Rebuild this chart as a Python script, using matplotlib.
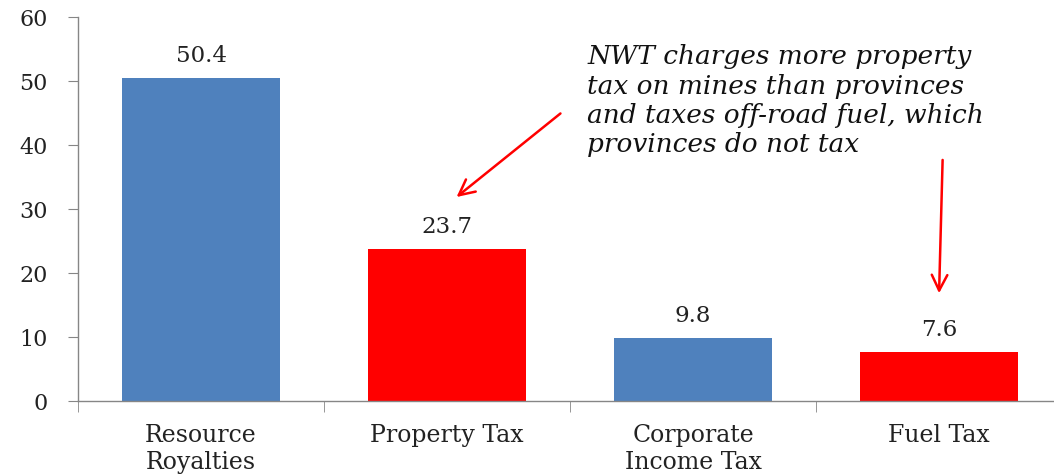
import numpy as np
import matplotlib.pyplot as plt

categories = ['Resource\nRoyalties', 'Property Tax', 'Corporate\nIncome Tax', 'Fuel Tax']
values = [50.4, 23.7, 9.8, 7.6]
colors = ['#4F81BD', '#FF0000', '#4F81BD', '#FF0000']
y_ticks = [0, 10, 20, 30, 40, 50, 60]
note = ('NWT charges more property\ntax on mines than provinces\n'
        'and taxes off-road fuel, which\nprovinces do not tax')

plt.rcParams['font.family'] = 'DejaVu Serif'

fig = plt.figure(figsize=(10.54, 4.77), dpi=100)
ax = fig.add_axes([78/1054, 1 - 402/477, 984/1054, 384/477])

x = np.arange(len(values))
bars = ax.bar(x, values, width=0.64, color=colors)
ax.bar_label(bars, labels=[f'{v:.1f}' for v in values], padding=9, fontsize=16.5, color='#222222')

ax.set_xlim(-0.5, len(values) - 0.5)
ax.set_ylim(0, 60)
ax.set_yticks(y_ticks)
ax.tick_params(axis='y', labelsize=16, length=7, color='#868686', pad=15, labelcolor='#222222')

ax.set_xticks(x)
ax.set_xticklabels(categories, fontsize=17, color='#222222', linespacing=1.2)
ax.tick_params(axis='x', length=0, pad=16)
ax.set_xticks(np.arange(len(values) + 1) - 0.5, minor=True)
ax.tick_params(axis='x', which='minor', length=8, color='#868686')

for s in ['top', 'right']:
    ax.spines[s].set_visible(False)
for s in ['left', 'bottom']:
    ax.spines[s].set_color('#868686')
    ax.spines[s].set_linewidth(1)

# annotation text and arrows
ax.text(1.57, 55.9, note, fontsize=19, style='italic', va='top', ha='left',
        linespacing=1.22, color='#111111')
ax.annotate('', xy=(1.03, 31.6), xytext=(1.47, 45.2),
            arrowprops=dict(arrowstyle='->', color='red', lw=1.8, mutation_scale=28))
ax.annotate('', xy=(3.0, 16.4), xytext=(3.015, 38.1),
            arrowprops=dict(arrowstyle='->', color='red', lw=1.8, mutation_scale=28))

fig.savefig('out.png', dpi=100)
